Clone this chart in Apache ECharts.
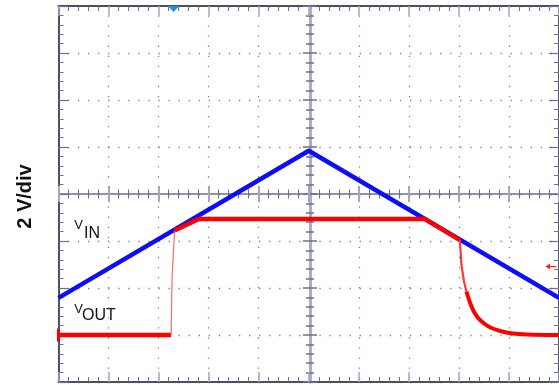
<!DOCTYPE html>
<html>
<head>
<meta charset="utf-8">
<script src="https://cdn.jsdelivr.net/npm/echarts@6/dist/echarts.min.js"></script>
<style>
  html, body { margin: 0; padding: 0; background: #fff; }
  #scope { width: 559px; height: 385px; }
</style>
</head>
<body>
<div id="scope"></div>
<script>
// time in divisions, voltage in volts (2 V/div)
var vinTime = [0, 5, 10];
var vinVolts = [-4.42, 1.84, -4.42];

var voutLowTime = [0, 2.25];
var voutLowVolts = [-6.0, -6.0];
var voutRiseTime = [2.25, 2.27, 2.32];
var voutRiseVolts = [-6.0, -3.5, -1.55];
var voutOnTime = [2.32, 2.8, 7.32, 8.02];
var voutOnVolts = [-1.55, -1.06, -1.06, -1.96];
var voutDropTime = [8.02, 8.05, 8.10, 8.15];
var voutDropVolts = [-1.96, -3.0, -3.7, -4.15];
var voutTailTime = [8.15, 8.21, 8.28, 8.38, 8.51, 8.64, 8.84, 9.04, 9.37, 10];
var voutTailVolts = [-4.15, -4.55, -4.92, -5.27, -5.52, -5.69, -5.84, -5.93, -5.98, -6.0];

var dark = '#4c4f5e';
var tickDark = '#6b7091';
var tickLight = '#a3a8c1';
var font = "'Liberation Sans', Arial, sans-serif";

function pairs(t, v) {
    return t.map(function(x, i) { return [x, v[i]]; });
}

function xAx(pos, offset, inside, opts) {
    return Object.assign({
        type: 'value', min: 0, max: 10, interval: 1,
        position: pos, offset: offset,
        axisLabel: { show: false },
        axisLine: { show: true, onZero: false, lineStyle: { color: dark, width: 2 } },
        axisTick: { show: true, inside: inside, length: 10, lineStyle: { color: tickLight, width: 1.5 } },
        minorTick: { show: true, splitNumber: 5, length: 5, lineStyle: { color: tickDark, width: 1 } },
        splitLine: { show: false }
    }, opts || {});
}

function yAx(pos, offset, inside, opts) {
    return Object.assign({
        type: 'value', min: -8, max: 8, interval: 2,
        position: pos, offset: offset,
        axisLabel: { show: false },
        axisLine: { show: true, onZero: false, lineStyle: { color: dark, width: 2 } },
        axisTick: { show: true, inside: inside, length: 10, lineStyle: { color: tickDark, width: 1.2 } },
        minorTick: { show: true, splitNumber: 5, length: 5, lineStyle: { color: tickDark, width: 1 } },
        splitLine: { show: false }
    }, opts || {});
}

var chart = echarts.init(document.getElementById('scope'), null, { renderer: 'canvas' });

var option = {
    animation: false,
    backgroundColor: '#ffffff',
    grid: { left: 58.5, top: 6, width: 503, height: 376, containLabel: false },
    xAxis: [
        xAx('bottom', 0, true, {
            splitLine: { show: true, lineStyle: { color: '#7a80a0', width: 1.3, type: [1.3, 8.76], dashOffset: 0.65 } }
        }),
        xAx('top', 0, true),
        xAx('bottom', -188, true, {
            axisLine: { show: true, onZero: false, lineStyle: { color: tickDark, width: 1.5 } },
            axisTick: { show: true, inside: true, length: 8, lineStyle: { color: tickLight, width: 2 } },
            minorTick: { show: true, splitNumber: 5, length: 4.5, lineStyle: { color: tickDark, width: 1 } }
        }),
        xAx('bottom', -188, false, {
            axisLine: { show: false },
            axisTick: { show: true, inside: false, length: 8, lineStyle: { color: tickLight, width: 2 } },
            minorTick: { show: true, splitNumber: 5, length: 4.5, lineStyle: { color: tickDark, width: 1 } }
        })
    ],
    yAxis: [
        yAx('left', 0, true, {
            splitLine: { show: true, lineStyle: { color: '#7a80a0', width: 1.3, type: [1.3, 8.76], dashOffset: 0.65 } }
        }),
        yAx('right', 0, true),
        yAx('left', -251.5, true, {
            axisLine: { show: true, onZero: false, lineStyle: { color: '#a9aec7', width: 3 } },
            axisTick: { show: true, inside: true, length: 7, lineStyle: { color: tickDark, width: 1.5 } },
            minorTick: { show: true, splitNumber: 5, length: 4, lineStyle: { color: tickDark, width: 1.5 } }
        }),
        yAx('left', -251.5, false, {
            axisLine: { show: false },
            axisTick: { show: true, inside: false, length: 7, lineStyle: { color: tickDark, width: 1.5 } },
            minorTick: { show: true, splitNumber: 5, length: 4, lineStyle: { color: tickDark, width: 1.5 } }
        })
    ],
    graphic: [
        {
            type: 'text', x: 25, y: 196.5, rotation: Math.PI / 2,
            style: { text: '2 V/div', font: 'bold 20px ' + font, fill: '#111', align: 'center', verticalAlign: 'middle' }
        },
        { type: 'text', x: 74.3, y: 225.5, style: { text: 'V', font: '13px ' + font, fill: '#111', align: 'left', verticalAlign: 'middle' } },
        { type: 'text', x: 84, y: 233.5, style: { text: 'IN', font: '16px ' + font, fill: '#111', align: 'left', verticalAlign: 'middle' } },
        { type: 'text', x: 74.3, y: 309, style: { text: 'V', font: '13px ' + font, fill: '#111', align: 'left', verticalAlign: 'middle' } },
        { type: 'text', x: 82, y: 316, style: { text: 'OUT', font: '16px ' + font, fill: '#111', align: 'left', verticalAlign: 'middle' } }
    ],
    series: [
        {
            name: 'VIN', type: 'line', xAxisIndex: 0, yAxisIndex: 0,
            data: pairs(vinTime, vinVolts), showSymbol: false, z: 3,
            lineStyle: { color: '#0d0dfa', width: 4.5 },
            markPoint: {
                silent: true, z: 5,
                data: [{ coord: [2.3, 8], symbol: 'triangle', symbolRotate: 180, symbolSize: [11, 6], symbolOffset: [0, 3] }],
                itemStyle: { color: '#1e90d8' }, label: { show: false }
            }
        },
        {
            name: 'VOUT off', type: 'line', xAxisIndex: 0, yAxisIndex: 0,
            data: pairs(voutLowTime, voutLowVolts), showSymbol: false, z: 4,
            lineStyle: { color: '#ff0000', width: 4.5 },
            markPoint: {
                silent: true,
                data: [{ coord: [0, -6], symbol: 'rect', symbolSize: [3, 13] }],
                itemStyle: { color: '#ff0000' }, label: { show: false }
            }
        },
        {
            name: 'VOUT rise', type: 'line', xAxisIndex: 0, yAxisIndex: 0,
            data: pairs(voutRiseTime, voutRiseVolts), showSymbol: false, z: 4,
            lineStyle: { color: '#f56a6a', width: 1.2 }
        },
        {
            name: 'VOUT', type: 'line', xAxisIndex: 0, yAxisIndex: 0,
            data: pairs(voutOnTime, voutOnVolts), showSymbol: false, z: 4,
            lineStyle: { color: '#ff0000', width: 4.5 }
        },
        {
            name: 'VOUT drop', type: 'line', xAxisIndex: 0, yAxisIndex: 0,
            data: pairs(voutDropTime, voutDropVolts), showSymbol: false, z: 4,
            lineStyle: { color: '#f53a3a', width: 2.2 }
        },
        {
            name: 'VOUT tail', type: 'line', xAxisIndex: 0, yAxisIndex: 0,
            data: pairs(voutTailTime, voutTailVolts), showSymbol: false, z: 4, smooth: 0.3,
            lineStyle: { color: '#ff0000', width: 4 },
            markPoint: {
                silent: true,
                data: [{ coord: [9.84, -3.09], symbol: 'path://M0,3 L5,0 L5,2.4 L12,2.4 L12,3.6 L5,3.6 L5,6 Z', symbolSize: [11, 6] }],
                itemStyle: { color: '#ff2020' }, label: { show: false }
            }
        }
    ]
};

chart.setOption(option);
</script>
</body>
</html>
